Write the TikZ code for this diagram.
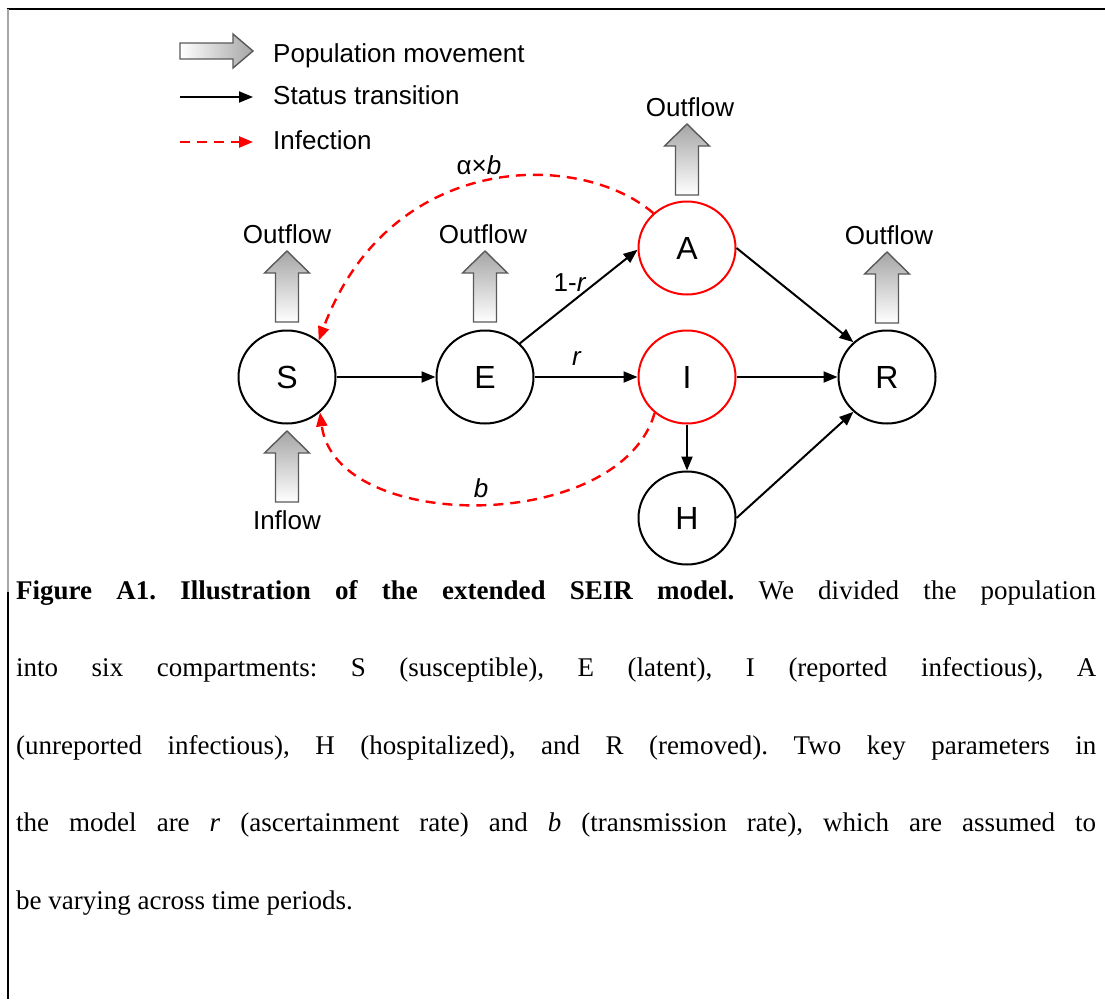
\documentclass[tikz,border=0pt]{standalone}
\usepackage{fontspec}
\setmainfont{Liberation Serif}
\newfontfamily\diag{Liberation Sans}
\usetikzlibrary{arrows.meta,shapes.geometric}
\tikzset{
  pics/fatup/.style={code={
    \path[fatstyle] (-11.5,0) -- (-11.5,-49) -- (-22.5,-49) -- (0,-71) -- (22.5,-49) -- (11.5,-49) -- (11.5,0) -- cycle;}}
}
\frenchspacing
\begin{document}
\begin{tikzpicture}[x=1pt,y=-1pt,
  comp/.style={ellipse,draw,line width=2pt,minimum width=97pt,minimum height=93pt,inner sep=0pt,font=\diag\fontsize{32}{36}\selectfont},
  infcomp/.style={comp,draw=red},
  trans/.style={line width=2pt,-{Triangle[length=14pt,width=11pt]}},
  infect/.style={red,line width=2.4pt,dash pattern=on 10pt off 7pt,-{Triangle[length=14pt,width=11pt]}},
  lbl/.style={font=\diag\fontsize{26}{30}\selectfont,inner sep=0pt},
  fatstyle/.style={draw=gray!70!black,line width=1.4pt,top color=gray!70,bottom color=white},
  fatleg/.style={draw=gray!70!black,line width=1.4pt,left color=white,right color=gray!70},
  capline/.style={anchor=base west,inner sep=0pt,font=\fontsize{27}{32}\selectfont}
]
\useasboundingbox (0,0) rectangle (1105,999);
% frame
\draw[line width=2.5pt] (6.75,9) -- (1105,9);
\draw[gray!70,line width=1.5pt] (8,9) -- (8,592);
\draw[line width=2.5pt] (8,592) -- (8,999);

% legend
\path[fatleg] (180,43) -- (233,43) -- (233,34) -- (253,51) -- (233,68) -- (233,59) -- (180,59) -- cycle;
\node[lbl,anchor=base west] (lg1) at (273,62) {Population movement};
\coordinate (l2a) at (180,97);
\coordinate (l2b) at (253,97);
\draw[trans] (l2a) -- (l2b);
\node[lbl,anchor=base west] (lg2) at (273,104) {Status transition};
\coordinate (l3a) at (180,142);
\coordinate (l3b) at (253,142);
\draw[infect] (l3a) -- (l3b);
\node[lbl,anchor=base west] (lg3) at (273,149) {Infection};

% compartments
\node[comp] (S) at (287,377) {S};
\node[comp] (E) at (485,377) {E};
\node[infcomp] (A) at (687,248) {A};
\node[infcomp] (I) at (687,377) {I};
\node[comp] (R) at (887,377) {R};
\node[comp] (H) at (687,518) {H};

% population movement arrows
\pic at (287,322) {fatup};
\pic at (287,502) {fatup};
\pic at (485,322) {fatup};
\pic at (687,195) {fatup};
\pic at (887,323) {fatup};
\node[lbl] (oS) at (287,234) {Outflow};
\node[lbl] (iS) at (287,520) {Inflow};
\node[lbl] (oE) at (483,234) {Outflow};
\node[lbl] (oA) at (690,107) {Outflow};
\node[lbl] (oR) at (889,235) {Outflow};

% transitions
\draw[trans] (S.east) -- (E.west);
\draw[trans] (E.44) -- (A.182);
\draw[trans] (E.east) -- (I.west);
\draw[trans] (A.east) -- (R.134);
\draw[trans] (I.east) -- (R.west);
\draw[trans] (I.south) -- (H.north);
\draw[trans] (H.east) -- (R.226);
\node[lbl] (l1r) at (570,283) {1-\textit{r}};
\node[lbl] (lr) at (577,358) {\textit{r}};

% infection
\draw[infect] (A.134) .. controls (580,150) and (390,150) .. (S.49);
\draw[infect] (I.228) .. controls (620,534) and (336,534) .. (S.313);
\node[lbl] (lab) at (479,165) {α×\textit{b}};
\node[lbl] (lb) at (481,488) {\textit{b}};

% caption
\node[capline] (c1) at (16,599) {\makebox[1080pt][s]{\textbf{Figure A1. Illustration of the extended SEIR model.} We divided the population}};
\node[capline] (c2) at (16,676.5) {\makebox[1080pt][s]{into six compartments: S (susceptible), E (latent), I (reported infectious), A}};
\node[capline] (c3) at (16,754) {\makebox[1080pt][s]{(unreported infectious), H (hospitalized), and R (removed). Two key parameters in}};
\node[capline] (c4) at (16,831.5) {\makebox[1080pt][s]{the model are \textit{r} (ascertainment rate) and \textit{b} (transmission rate), which are assumed to}};
\node[capline] (c5) at (16,909) {be varying across time periods.};
\end{tikzpicture}
\end{document}
